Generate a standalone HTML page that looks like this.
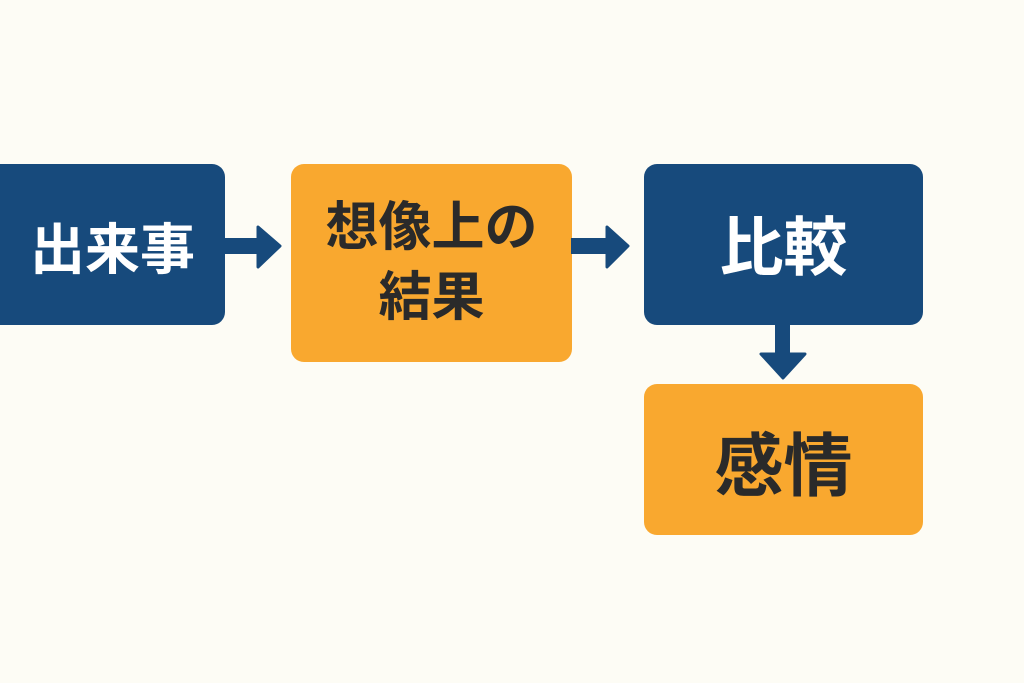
<!DOCTYPE html>
<html><head><meta charset="utf-8"><style>
body{margin:0;width:1024px;height:683px;background:#fdfcf5;position:relative;overflow:hidden;font-family:"Liberation Sans","Noto Sans CJK JP",sans-serif;font-weight:bold}
.b{position:absolute;border-radius:13px;display:flex;align-items:center;justify-content:center;text-align:center}
.blue{background:#174a7c;color:#fff}
.or{background:#f9a82f;color:#2a2a2a}
</style></head><body>
<div class="b blue" style="left:-20px;top:164px;width:245px;height:161px;font-size:55px;padding-left:20px;box-sizing:border-box">出来事</div>
<div class="b or" style="left:291px;top:164px;width:281px;height:198px;font-size:53px;line-height:70px">想像上の<br>結果</div>
<div class="b blue" style="left:644px;top:164px;width:279px;height:161px;font-size:64px;padding-bottom:4px;box-sizing:border-box">比較</div>
<div class="b or" style="left:644px;top:384px;width:279px;height:151px;font-size:69px">感情</div>
<svg width="1024" height="683" style="position:absolute;left:0;top:0">
<g fill="#174a7c">
<rect x="224" y="238" width="36" height="16"/>
<path d="M258 227 L280 246 L258 267 Z" stroke="#174a7c" stroke-width="3" stroke-linejoin="round"/>
<rect x="571" y="238" width="38" height="16"/>
<path d="M607 227 L628 246 L607 267 Z" stroke="#174a7c" stroke-width="3" stroke-linejoin="round"/>
<rect x="775" y="324" width="15" height="32"/>
<path d="M761 354 L805 354 L783 378 Z" stroke="#174a7c" stroke-width="3" stroke-linejoin="round"/>
</g></svg>
</body></html>
